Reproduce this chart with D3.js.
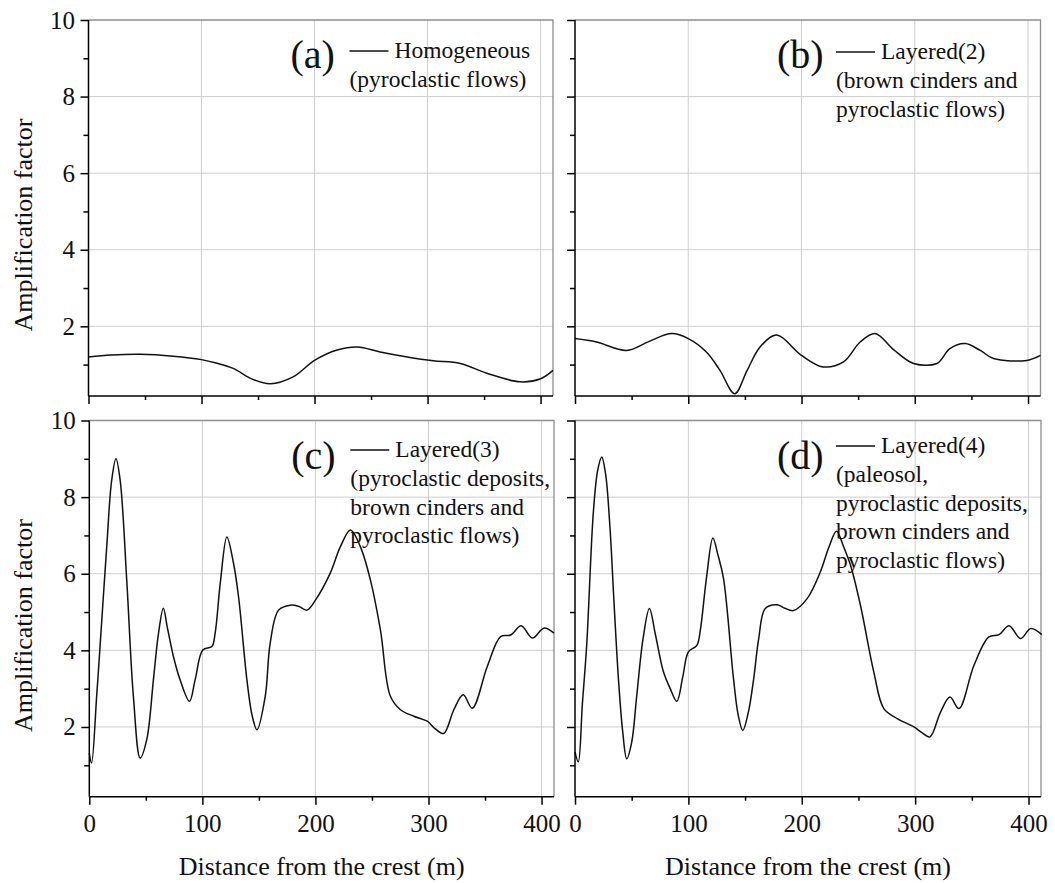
<!DOCTYPE html>
<html>
<head>
<meta charset="utf-8">
<script src="https://cdn.jsdelivr.net/npm/d3@7"></script>
<style>
  body { margin: 0; background: #fff; }
  svg { display: block; font-family: "Liberation Serif", "Times New Roman", serif; }
  .grid line { stroke: #cfcfcf; stroke-width: 1; }
  .frame { stroke: #8e8e8e; stroke-width: 1.3; fill: none; }
  .axis path, .axis line { stroke: #000; stroke-width: 1.5; }
  .axis text { font-family: "Liberation Serif", "Times New Roman", serif; font-size: 25px; fill: #111; }
  .curve { fill: none; stroke: #111; stroke-width: 1.5; }
  .tag { font-size: 40px; fill: #111; }
  .legend { font-size: 23.5px; fill: #111; }
  .title { font-size: 26px; fill: #111; }
</style>
</head>
<body>
<svg id="chart" width="1055" height="883"></svg>
<script>
// distance along profile (m) and amplification factor
const distA = [0, 20, 46, 75, 100, 113, 128, 145, 161, 181, 200, 220, 238, 258, 282, 305, 329, 353, 382, 400, 411];
const ampA  = [1.20, 1.25, 1.27, 1.22, 1.13, 1.04, 0.90, 0.62, 0.50, 0.68, 1.11, 1.38, 1.46, 1.33, 1.20, 1.10, 1.03, 0.77, 0.55, 0.63, 0.85];

const distB = [0, 19, 45.6, 65, 85.4, 100, 116, 128, 141, 152, 163.4, 178, 200, 219, 237, 251.8, 265, 281, 299, 319.5, 331, 344.5, 357.8, 369.5, 399, 411];
const ampB  = [1.68, 1.59, 1.37, 1.60, 1.81, 1.68, 1.33, 0.85, 0.24, 0.85, 1.46, 1.77, 1.24, 0.94, 1.07, 1.59, 1.81, 1.40, 1.03, 1.03, 1.42, 1.55, 1.37, 1.16, 1.11, 1.24];

const distC = [0, 2, 6.5, 9.5, 15.4, 19.8, 23.6, 27.3, 33.1, 39, 45, 50.8, 56.7, 61, 65.5, 69, 74.4, 80.3, 88.6, 93.6, 100.4, 108.4, 111.3, 116, 121.7, 127.5, 132, 139.4, 144, 148.3, 155.6, 160, 167.4, 177.8, 185, 192.6, 200, 213, 222, 231, 239.8, 248.6, 257.5, 266.3, 275.2, 287, 298.9, 306, 313.5, 322.4, 330.7, 338.7, 352, 363.8, 372.6, 382, 391.9, 402, 411];
const ampC  = [1.32, 1.06, 2.8, 4.1, 6.7, 8.44, 9.0, 8.44, 5.84, 2.8, 1.19, 1.67, 3.23, 4.4, 5.10, 4.6, 3.84, 3.23, 2.67, 3.23, 4.01, 4.10, 4.45, 5.8, 6.96, 6.28, 5.40, 3.23, 2.3, 1.93, 2.80, 4.19, 5.05, 5.18, 5.15, 5.05, 5.31, 6.01, 6.7, 7.14, 6.70, 5.84, 4.53, 2.80, 2.45, 2.28, 2.15, 1.95, 1.83, 2.45, 2.84, 2.49, 3.58, 4.36, 4.40, 4.64, 4.32, 4.58, 4.45];

const distD = [0, 2.9, 6.5, 10.3, 16.2, 20, 23.6, 27, 30.9, 34.5, 38.3, 42, 45.6, 50, 54.5, 60, 65.6, 71, 78, 84, 89.8, 95, 100, 107.5, 110.4, 116, 121.6, 126, 131, 139.8, 144, 148, 153, 157.6, 162, 167.8, 178.2, 185, 192.8, 204.7, 216.4, 224, 230.6, 237, 243, 251.8, 263.5, 272.4, 284.2, 298.9, 306, 313, 322.4, 330.7, 338.6, 351.9, 365, 374, 382.8, 393, 402, 411.7];
const ampD  = [1.35, 1.09, 2.6, 4.13, 7.61, 8.7, 9.05, 8.6, 7.18, 5.2, 3.26, 1.9, 1.17, 1.6, 2.83, 4.3, 5.09, 4.4, 3.44, 3.0, 2.67, 3.3, 3.96, 4.13, 4.5, 5.9, 6.93, 6.5, 5.87, 3.26, 2.3, 1.91, 2.4, 3.26, 4.3, 5.09, 5.19, 5.1, 5.04, 5.35, 6.05, 6.7, 7.11, 6.7, 6.22, 5.17, 3.44, 2.48, 2.22, 2.0, 1.85, 1.74, 2.39, 2.78, 2.48, 3.61, 4.35, 4.41, 4.64, 4.31, 4.57, 4.41];

// axes
const xTicks = [0, 100, 200, 300, 400];
const xMinor = [50, 150, 250, 350];
const yTicks = [2, 4, 6, 8, 10];
const yMinor = [1, 3, 5, 7, 9];
const xDomain = [0, 411];
const yDomain = [0.18, 10];

// legend text
const tags = ['(a)', '(b)', '(c)', '(d)'];
const legendA = ['Homogeneous', '(pyroclastic flows)'];
const legendB = ['Layered(2)', '(brown cinders and', 'pyroclastic flows)'];
const legendC = ['Layered(3)', '(pyroclastic deposits,', 'brown cinders and', 'pyroclastic flows)'];
const legendD = ['Layered(4)', '(paleosol,', 'pyroclastic deposits,', 'brown cinders and', 'pyroclastic flows)'];

const xLabel = 'Distance from the crest (m)';
const yLabel = 'Amplification factor';

const serif = '"Liberation Serif", "Times New Roman", serif';
const svg = d3.select('#chart');

const panels = [
  { x: distA, y: ampA, tag: tags[0], legend: legendA, left: 88.5, top: 20, w: 464.5, h: 376, yLabels: true, xLabels: false, lgTop: 38 },
  { x: distB, y: ampB, tag: tags[1], legend: legendB, left: 575, top: 20, w: 465.5, h: 376, yLabels: false, xLabels: false, lgTop: 39 },
  { x: distC, y: ampC, tag: tags[2], legend: legendC, left: 89.3, top: 420.5, w: 464.7, h: 376.2, yLabels: true, xLabels: true, lgTop: 36.5 },
  { x: distD, y: ampD, tag: tags[3], legend: legendD, left: 575, top: 420.5, w: 466, h: 376.2, yLabels: false, xLabels: true, lgTop: 32.5 }
];

panels.forEach(p => {
  const g = svg.append('g').attr('transform', `translate(${p.left},${p.top})`);
  const x = d3.scaleLinear().domain(xDomain).range([0, p.w]);
  const y = d3.scaleLinear().domain(yDomain).range([p.h, 0]);

  // grid
  const grid = g.append('g').attr('class', 'grid');
  grid.selectAll('.gx').data(xTicks.filter(d => d > 0)).enter().append('line')
    .attr('x1', d => x(d)).attr('x2', d => x(d)).attr('y1', 0).attr('y2', p.h);
  grid.selectAll('.gy').data(yTicks.filter(d => d < 10)).enter().append('line')
    .attr('x1', 0).attr('x2', p.w).attr('y1', d => y(d)).attr('y2', d => y(d));

  // top and right frame
  g.append('path').attr('class', 'frame')
    .attr('d', `M0,${y(10)}H${p.w}V${p.h}`);

  // curve
  const pts = p.x.map((d, i) => [d, p.y[i]]);
  const line = d3.line().x(d => x(d[0])).y(d => y(d[1])).curve(d3.curveCatmullRom.alpha(0.5));
  g.append('path').datum(pts).attr('class', 'curve').attr('d', line);

  // legend
  const lg = g.append('g');
  const tx = 202, lx = tx + 59;
  lg.append('text').attr('class', 'tag').attr('x', tx).attr('y', 48).text(p.tag);
  lg.append('line').attr('x1', lx).attr('x2', lx + 39)
    .attr('y1', p.lgTop - 7).attr('y2', p.lgTop - 7)
    .attr('stroke', '#111').attr('stroke-width', 1.5);
  p.legend.forEach((t, i) => {
    lg.append('text').attr('class', 'legend')
      .attr('x', i === 0 ? lx + 45 : lx)
      .attr('y', p.lgTop + i * 28.8)
      .text(t);
  });

  // axes
  const yAxis = d3.axisLeft(y).tickValues(yTicks).tickSize(8).tickPadding(5.5)
    .tickFormat(p.yLabels ? d3.format('d') : () => '');
  g.append('g').attr('class', 'axis').call(yAxis)
    .attr('font-family', serif).attr('font-size', 25)
    .call(a => a.select('.domain').attr('d', `M0,0V${p.h}`));
  g.append('g').attr('class', 'axis')
    .call(d3.axisLeft(y).tickValues(yMinor).tickSize(5).tickFormat(''))
    .call(a => a.select('.domain').remove());

  const xAxis = d3.axisBottom(x).tickValues(xTicks).tickSize(8).tickPadding(10)
    .tickFormat(p.xLabels ? d3.format('d') : () => '');
  g.append('g').attr('class', 'axis').attr('transform', `translate(0,${p.h})`)
    .call(xAxis)
    .attr('font-family', serif).attr('font-size', 25)
    .call(a => a.select('.domain').attr('d', `M0,0H${p.w}`));
  g.append('g').attr('class', 'axis').attr('transform', `translate(0,${p.h})`)
    .call(d3.axisBottom(x).tickValues(xMinor).tickSize(4).tickFormat(''))
    .call(a => a.select('.domain').remove());

  if (p.yLabels) {
    svg.append('text').attr('class', 'title')
      .attr('transform', `translate(32,${p.top + p.h / 2 + 17}) rotate(-90)`)
      .attr('text-anchor', 'middle').text(yLabel);
  }
  if (p.xLabels) {
    svg.append('text').attr('class', 'title')
      .attr('x', p.left + p.w / 2).attr('y', 875)
      .attr('text-anchor', 'middle').text(xLabel);
  }
});
</script>
</body>
</html>
